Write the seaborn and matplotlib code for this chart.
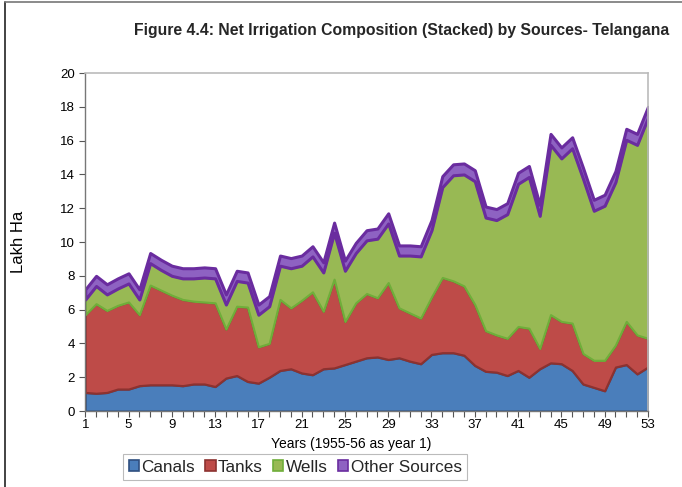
import numpy as np
import pandas as pd
import matplotlib
matplotlib.use('Agg')
import matplotlib.pyplot as plt
from matplotlib.patches import Patch
from matplotlib.lines import Line2D
import seaborn as sns

# Net irrigated area by source, lakh ha
anos = list(range(1, 54))
canals = [1.1, 1.05, 1.1, 1.3, 1.3, 1.5, 1.55, 1.55, 1.55, 1.5, 1.6, 1.6, 1.45, 1.95, 2.1, 1.75, 1.65, 2.0,
          2.4, 2.5, 2.25, 2.15, 2.5, 2.55, 2.75, 2.95, 3.15, 3.2, 3.05, 3.15, 2.95, 2.8, 3.35, 3.45, 3.45,
          3.3, 2.7, 2.35, 2.3, 2.1, 2.4, 2.0, 2.5, 2.85, 2.8, 2.4, 1.6, 1.4, 1.2, 2.6, 2.75, 2.2, 2.6]
tanks = [4.6, 5.3, 4.85, 4.95, 5.15, 4.2, 5.9, 5.6, 5.3, 5.1, 4.9, 4.85, 4.95, 2.9, 4.1, 4.4, 2.15, 2.0,
         4.2, 3.6, 4.3, 4.9, 3.4, 5.25, 2.55, 3.45, 3.8, 3.5, 4.55, 2.95, 2.85, 2.7, 3.4, 4.45, 4.25,
         4.1, 3.6, 2.4, 2.2, 2.2, 2.6, 2.9, 1.2, 2.85, 2.5, 2.8, 1.8, 1.6, 1.8, 1.3, 2.55, 2.3, 1.7]
wells = [0.9, 1.05, 0.95, 1.0, 1.1, 0.9, 1.3, 1.2, 1.15, 1.25, 1.35, 1.45, 1.45, 1.45, 1.5, 1.45, 1.9, 2.2,
         2.0, 2.35, 2.05, 2.1, 2.3, 2.75, 3.0, 2.95, 3.15, 3.5, 3.5, 3.1, 3.4, 3.65, 3.95, 5.35, 6.25,
         6.6, 7.3, 6.7, 6.8, 7.35, 8.45, 8.95, 7.85, 10.05, 9.65, 10.35, 10.35, 8.85, 9.15, 9.65, 10.75,
         11.25, 13.05]
outras = [0.6, 0.6, 0.6, 0.6, 0.6, 0.6, 0.6, 0.6, 0.6, 0.6, 0.6, 0.6, 0.6, 0.6, 0.6, 0.6, 0.6, 0.6,
          0.6, 0.6, 0.6, 0.6, 0.6, 0.6, 0.6, 0.6, 0.6, 0.6, 0.6, 0.6, 0.6, 0.6, 0.6, 0.65, 0.65,
          0.65, 0.65, 0.65, 0.65, 0.65, 0.65, 0.65, 0.65, 0.65, 0.65, 0.65, 0.65, 0.65, 0.65, 0.65, 0.65,
          0.65, 0.65]
fontes = ['Canals', 'Tanks', 'Wells', 'Other Sources']
xticks_lbl = list(range(1, 54, 4))

df = pd.DataFrame({'Ano': anos, 'Canals': canals, 'Tanks': tanks, 'Wells': wells, 'Other Sources': outras})

sns.set_theme(style='white')
plt.rcParams['font.family'] = ['Liberation Sans', 'DejaVu Sans']

cores = ['#4A7EBB', '#BE4B48', '#98B954', '#8E62C2']
bordas = ['#2F4F7F', '#8C3230', '#6FAE3A', '#6A2C9F']

fig = plt.figure(figsize=(6.82, 4.87), dpi=100)
ax = fig.add_axes([0.125, 0.156, 0.825, 0.694])

polys = ax.stackplot(df['Ano'], [df[f] for f in fontes], colors=cores, labels=fontes)
for p, b in zip(polys, bordas):
    p.set_edgecolor(b)
    p.set_linewidth(1.6)
polys[3].set_linewidth(2.2)

ax.set_xlim(1, 53)
ax.set_ylim(0, 20)
ax.set_yticks(np.arange(0, 21, 2))
ax.set_xticks(xticks_lbl)
ax.set_xticks(anos, minor=True)
ax.tick_params(axis='both', which='both', direction='out', colors='#555555')
ax.tick_params(axis='x', which='both', length=4, width=0.8, bottom=True, labelsize=9.5, pad=2)
ax.tick_params(axis='y', which='major', length=4, width=0.8, left=True, labelsize=9.5)
for lbl in ax.get_xticklabels() + ax.get_yticklabels():
    lbl.set_color('black')

for s in ['left', 'bottom']:
    ax.spines[s].set_color('#777777')
    ax.spines[s].set_linewidth(1.0)
for s in ['top', 'right']:
    ax.spines[s].set_color('#BBBBBB')
    ax.spines[s].set_linewidth(1.2)

ax.set_ylabel('Lakh Ha', fontsize=12, color='black')
ax.yaxis.set_label_coords(-0.105, 0.5)
ax.set_xlabel('Years (1955-56 as year 1)', fontsize=10, color='black')
ax.xaxis.set_label_coords(0.472, -0.078)

fig.text(0.589, 0.938, 'Figure 4.4: Net Irrigation Composition (Stacked) by Sources- Telangana',
         ha='center', va='center', fontsize=11.3, fontweight='bold')

handles = [Patch(facecolor=c, edgecolor=b, linewidth=1.2) for c, b in zip(cores, bordas)]
leg = fig.legend(handles, fontes, loc='center', bbox_to_anchor=(0.433, 0.041), ncol=4,
                 fontsize=12.3, frameon=True, fancybox=False, edgecolor='#AAAAAA',
                 handlelength=0.6, handleheight=0.6, handletextpad=0.15, columnspacing=0.6,
                 borderpad=0.3)
leg.get_frame().set_linewidth(0.8)

# moldura da figura
fig.add_artist(Line2D([0.008, 0.008], [0.0, 0.996], color='#222222', lw=1.2, transform=fig.transFigure))
fig.add_artist(Line2D([0.008, 1.0], [0.996, 0.996], color='#777777', lw=1.2, transform=fig.transFigure))

fig.savefig('out.png', dpi=100)
plt.close(fig)
